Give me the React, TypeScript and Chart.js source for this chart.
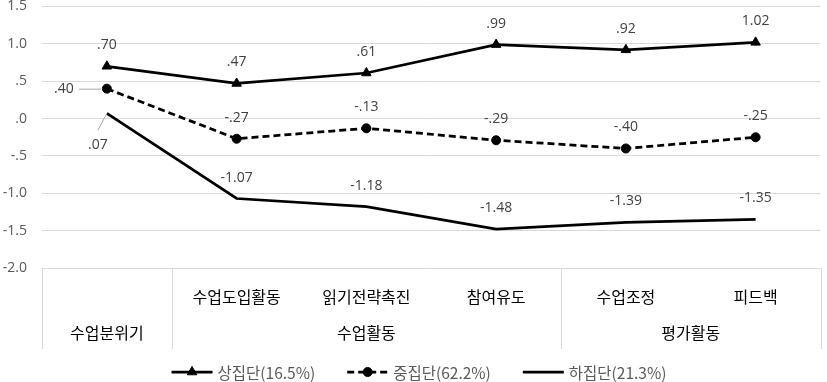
import React, { useEffect, useRef } from "react";
import { Chart, registerables } from "chart.js";

Chart.register(...registerables);

// ---------- data ----------
const categories = ["수업분위기", "수업도입활동", "읽기전략촉진", "참여유도", "수업조정", "피드백"];
const topRowLabels = ["", "수업도입활동", "읽기전략촉진", "참여유도", "수업조정", "피드백"];
const groupLabels = ["수업분위기", "수업활동", "평가활동"];
const groupStarts = [0, 1, 4];
const groupEnds = [0, 3, 5];

const seriesNames = ["상집단(16.5%)", "중집단(62.2%)", "하집단(21.3%)"];
const upperValues = [0.7, 0.47, 0.61, 0.99, 0.92, 1.02];
const middleValues = [0.4, -0.27, -0.13, -0.29, -0.4, -0.25];
const lowerValues = [0.07, -1.07, -1.18, -1.48, -1.39, -1.35];

const yMin = -2.0;
const yMax = 1.5;
const yStep = 0.5;

// ---------- helpers ----------
const NUM_FONT = '"Open Sans", "Noto Sans", sans-serif';
const KR_FONT = '"Noto Sans CJK KR", "Noto Sans", sans-serif';

function fmt(v: number, digits: number): string {
  let s = v.toFixed(digits);
  if (s.startsWith("0.")) s = s.slice(1);
  else if (s.startsWith("-0.")) s = "-" + s.slice(2);
  return s;
}

function drawMarker(ctx: CanvasRenderingContext2D, style: string, x: number, y: number, r: number) {
  if (!style || r <= 0) return;
  ctx.save();
  ctx.fillStyle = "#000";
  ctx.strokeStyle = "#000";
  ctx.lineWidth = 1;
  ctx.setLineDash([]);
  ctx.beginPath();
  if (style === "triangle") {
    let rad = 0;
    ctx.moveTo(x + Math.sin(rad) * r, y - Math.cos(rad) * r);
    rad += (2 * Math.PI) / 3;
    ctx.lineTo(x + Math.sin(rad) * r, y - Math.cos(rad) * r);
    rad += (2 * Math.PI) / 3;
    ctx.lineTo(x + Math.sin(rad) * r, y - Math.cos(rad) * r);
    ctx.closePath();
  } else {
    ctx.arc(x, y, r, 0, Math.PI * 2);
  }
  ctx.fill();
  ctx.stroke();
  ctx.restore();
}

const overlayPlugin = {
  id: "overlay",
  afterDatasetsDraw(chart: any) {
    const ctx: CanvasRenderingContext2D = chart.ctx;
    ctx.save();
    ctx.font = `14px ${NUM_FONT}`;
    ctx.fillStyle = "#404040";
    ctx.textAlign = "center";
    ctx.textBaseline = "middle";
    chart.data.datasets.forEach((ds: any, di: number) => {
      const meta = chart.getDatasetMeta(di);
      meta.data.forEach((pt: any, i: number) => {
        const v = ds.data[i] as number;
        const text = fmt(v, 2);
        const x = pt.x;
        const y = pt.y;
        if (di === 1 && i === 0) {
          ctx.fillText(text, x - 43, y);
          ctx.save();
          ctx.strokeStyle = "#a6a6a6";
          ctx.lineWidth = 1;
          ctx.beginPath();
          ctx.moveTo(x - 28, y + 0.5);
          ctx.lineTo(x - 6, y + 0.5);
          ctx.stroke();
          ctx.restore();
        } else if (di === 2 && i === 0) {
          ctx.fillText(text, x - 9, y + 32);
          ctx.save();
          ctx.strokeStyle = "#a6a6a6";
          ctx.lineWidth = 1;
          ctx.beginPath();
          ctx.moveTo(x, y);
          ctx.lineTo(x - 9, y + 17);
          ctx.stroke();
          ctx.restore();
        } else {
          ctx.fillText(text, x, y - 21);
        }
      });
    });
    ctx.restore();
  },
  afterDraw(chart: any) {
    const ctx: CanvasRenderingContext2D = chart.ctx;
    const xs = chart.scales.x;
    const area = chart.chartArea;
    const half = (xs.getPixelForValue(1) - xs.getPixelForValue(0)) / 2;
    const boxBottom = area.bottom + 81;

    // separators in category box
    ctx.save();
    ctx.strokeStyle = "#d9d9d9";
    ctx.lineWidth = 1;
    const bounds: number[] = groupStarts.map((s) => xs.getPixelForValue(s) - half);
    bounds.push(xs.getPixelForValue(categories.length - 1) + half);
    bounds.forEach((bx) => {
      const px = Math.round(bx) + 0.5;
      ctx.beginPath();
      ctx.moveTo(px, area.bottom);
      ctx.lineTo(px, boxBottom);
      ctx.stroke();
    });
    ctx.restore();

    // group labels (second row)
    ctx.save();
    ctx.font = `16px ${KR_FONT}`;
    ctx.fillStyle = "#000";
    ctx.textAlign = "center";
    ctx.textBaseline = "middle";
    groupLabels.forEach((g, gi) => {
      const cx = (xs.getPixelForValue(groupStarts[gi]) + xs.getPixelForValue(groupEnds[gi])) / 2;
      ctx.fillText(g, cx, area.bottom + 65);
    });
    ctx.restore();

    // legend
    ctx.save();
    ctx.font = `15.5px ${KR_FONT}`;
    ctx.textBaseline = "middle";
    ctx.textAlign = "left";
    const sample = 41;
    const gapT = 5;
    const gapItem = 32;
    const widths = seriesNames.map((n) => ctx.measureText(n).width);
    const total = widths.reduce((a, w) => a + sample + gapT + w, 0) + gapItem * (seriesNames.length - 1);
    let lx = 419 - total / 2;
    const ly = 372;
    chart.data.datasets.forEach((ds: any, di: number) => {
      ctx.save();
      ctx.strokeStyle = "#000";
      ctx.lineWidth = ds.borderWidth;
      ctx.setLineDash(ds.borderDash || []);
      ctx.beginPath();
      ctx.moveTo(lx, ly);
      ctx.lineTo(lx + sample, ly);
      ctx.stroke();
      ctx.restore();
      drawMarker(ctx, ds.pointStyle, lx + sample / 2, ly, ds.pointRadius);
      ctx.fillStyle = "#595959";
      ctx.fillText(seriesNames[di], lx + sample + gapT, ly + 1);
      lx += sample + gapT + widths[di] + gapItem;
    });
    ctx.restore();
  },
};

export default function App() {
  const canvasRef = useRef<HTMLCanvasElement | null>(null);

  useEffect(() => {
    document.body.style.margin = "0";
    const canvas = canvasRef.current;
    if (!canvas) return;
    const chart = new Chart(canvas, {
      type: "line",
      data: {
        labels: topRowLabels,
        datasets: [
          {
            label: seriesNames[0],
            data: upperValues,
            borderColor: "#000",
            backgroundColor: "#000",
            borderWidth: 2.75,
            pointStyle: "triangle",
            pointRadius: 5.5,
            pointBorderWidth: 1,
            pointBackgroundColor: "#000",
            pointBorderColor: "#000",
            tension: 0,
          },
          {
            label: seriesNames[1],
            data: middleValues,
            borderColor: "#000",
            backgroundColor: "#000",
            borderWidth: 2.75,
            borderDash: [7, 4],
            pointStyle: "circle",
            pointRadius: 4.5,
            pointBorderWidth: 1,
            pointBackgroundColor: "#000",
            pointBorderColor: "#000",
            tension: 0,
          },
          {
            label: seriesNames[2],
            data: lowerValues,
            borderColor: "#000",
            backgroundColor: "#000",
            borderWidth: 2.75,
            pointStyle: false as any,
            pointRadius: 0,
            tension: 0,
          },
        ],
      },
      options: {
        responsive: false,
        animation: false,
        layout: { padding: { top: 6, left: 0, right: 3, bottom: 32 } },
        plugins: {
          legend: { display: false },
          tooltip: { enabled: false },
          title: { display: false },
        },
        scales: {
          x: {
            type: "category",
            offset: true,
            grid: { display: false, drawTicks: false },
            border: { display: false },
            ticks: {
              autoSkip: false,
              maxRotation: 0,
              padding: 19,
              color: "#000",
              font: { family: KR_FONT, size: 16 },
            },
            afterFit: (scale: any) => {
              scale.height = 82;
              scale.paddingLeft = 0;
              scale.paddingRight = 0;
            },
          },
          y: {
            min: yMin,
            max: yMax,
            grid: { color: "#d9d9d9", lineWidth: 1, drawTicks: false },
            border: { display: false },
            ticks: {
              stepSize: yStep,
              padding: 15,
              color: "#595959",
              font: { family: NUM_FONT, size: 14 },
              callback: (v: any) => fmt(Number(v), 1),
            },
            afterFit: (scale: any) => {
              scale.width = 42;
              scale.paddingTop = 0;
              scale.paddingBottom = 0;
            },
          },
        },
      },
      plugins: [overlayPlugin],
    });
    return () => chart.destroy();
  }, []);

  return (
    <div style={{ width: 827, height: 382, background: "#fff" }}>
      <canvas ref={canvasRef} width={827} height={382} />
    </div>
  );
}
